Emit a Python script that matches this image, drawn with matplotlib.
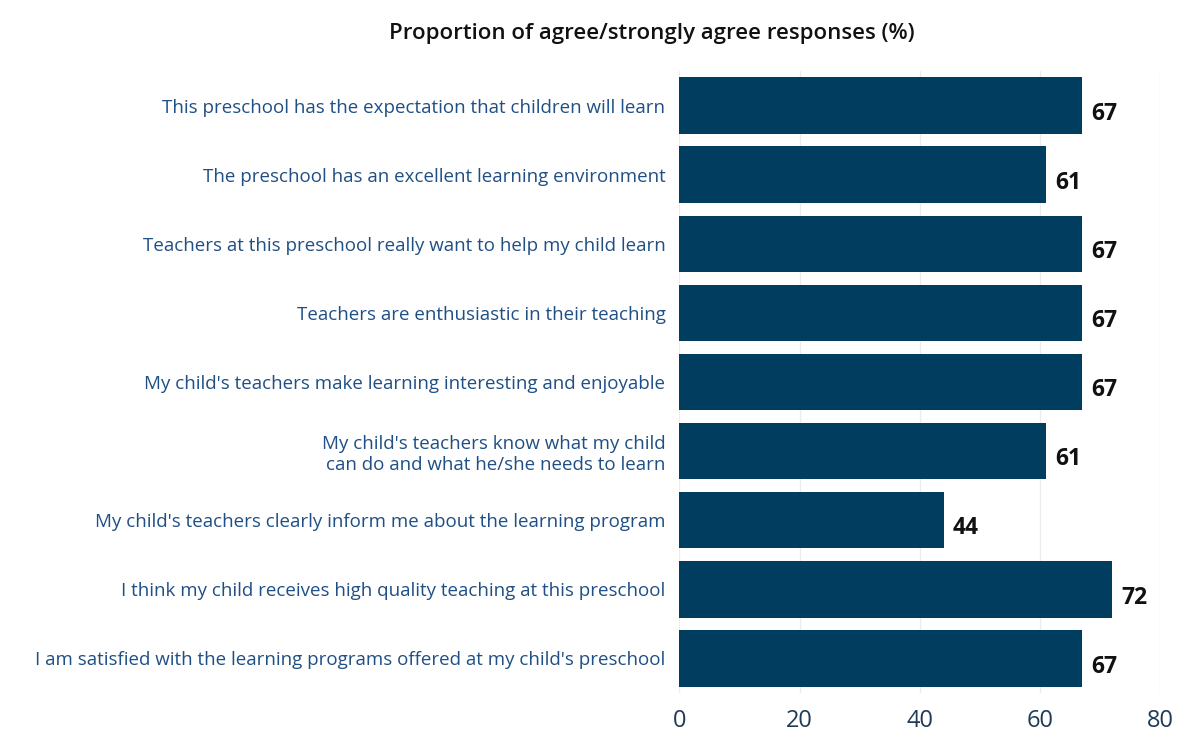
import matplotlib.pyplot as plt

# Survey items (top to bottom) and share agreeing (%)
items = [
    "This preschool has the expectation that children will learn",
    "The preschool has an excellent learning environment",
    "Teachers at this preschool really want to help my child learn",
    "Teachers are enthusiastic in their teaching",
    "My child's teachers make learning interesting and enjoyable",
    "My child's teachers know what my child\ncan do and what he/she needs to learn",
    "My child's teachers clearly inform me about the learning program",
    "I think my child receives high quality teaching at this preschool",
    "I am satisfied with the learning programs offered at my child's preschool",
]
values = [67, 61, 67, 67, 67, 61, 44, 72, 67]
xticks = [0, 20, 40, 60, 80]

plt.rcParams['font.family'] = ['Open Sans', 'DejaVu Sans']

fig = plt.figure(figsize=(11.96, 7.49), dpi=100)
ax = fig.add_axes([0.568, 0.075, 0.402, 0.83])

ypos = list(range(len(items)))
ax.barh(ypos, values, height=0.82, color='#003d5f')
ax.set_ylim(len(items) - 0.5, -0.5)
ax.set_xlim(0, 80)

for y, v in zip(ypos, values):
    ax.text(v + 1.5, y + 0.12, str(v), va='center', ha='left',
            fontsize=16.5, fontweight='bold', color='#111111')

ax.set_yticks(ypos)
ax.set_yticklabels(items, fontsize=13.5, color='#1f4f85')
ax.set_xticks(xticks)
ax.set_xticklabels([str(t) for t in xticks], fontsize=17, color='#1f3a56')
ax.tick_params(axis='both', length=0)
ax.tick_params(axis='x', pad=12)
ax.tick_params(axis='y', pad=10)

ax.grid(axis='x', color='#ececec', linewidth=1)
ax.set_axisbelow(True)
for s in ax.spines.values():
    s.set_visible(False)

fig.text(0.545, 0.955, "Proportion of agree/strongly agree responses (%)",
         ha='center', va='center', fontsize=16, fontweight='semibold',
         color='#111111')

fig.savefig('out.png', dpi=100)
